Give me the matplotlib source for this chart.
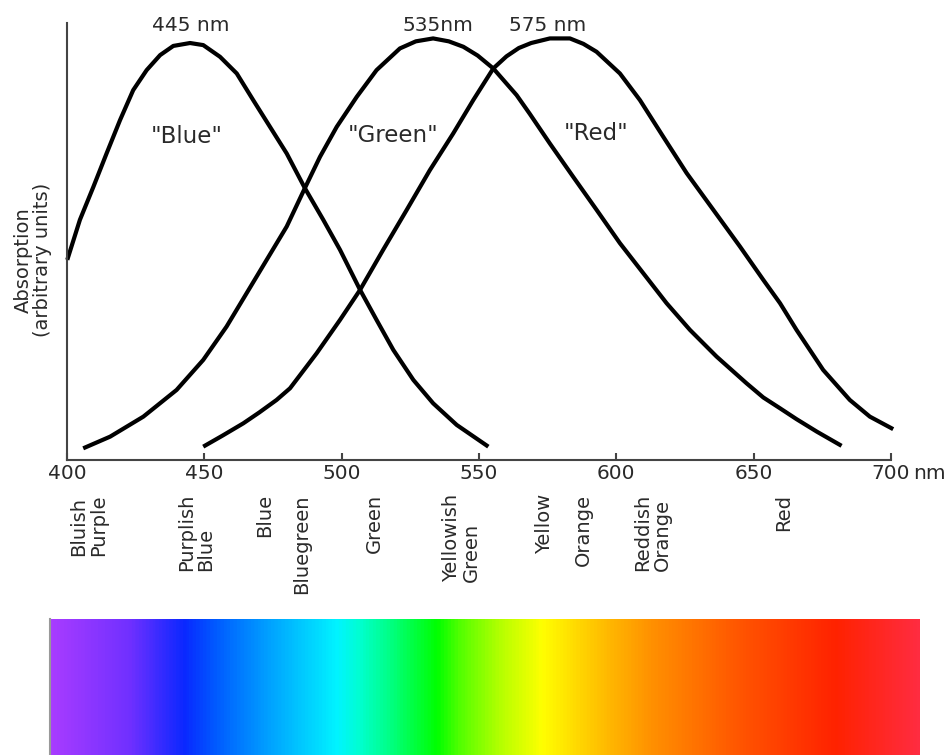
import numpy as np
import matplotlib
matplotlib.use("Agg")
import matplotlib.pyplot as plt
from matplotlib.colors import LinearSegmentedColormap
from matplotlib.transforms import blended_transform_factory

# cone absorption curves, traced (wavelength nm, relative absorption)
blue_nm = [400.1, 404.7, 409.6, 414.4, 419.3, 424.1, 429, 433.9, 438.7, 444.8,
           449.6, 455.7, 461.8, 467.8, 473.9, 480, 486.6, 493.3, 499.4, 506.7,
           512.7, 518.8, 526.1, 533.3, 541.9, 553.4]
blue_abs = [0.48, 0.576, 0.655, 0.735, 0.815, 0.887, 0.935, 0.971, 0.993, 1.0,
            0.995, 0.967, 0.927, 0.863, 0.799, 0.735, 0.652, 0.576, 0.504, 0.408,
            0.336, 0.264, 0.192, 0.136, 0.084, 0.032]

green_nm = [405.9, 415.7, 427.8, 439.9, 449.6, 458.1, 465.4, 472.7, 480, 486.6,
            492.1, 498.2, 505.5, 512.7, 521.2, 527, 533.3, 539, 544.3, 549.5,
            555.2, 563.7, 568.5, 575.8, 584.3, 592.8, 601.3, 609.8, 618.3, 626.8,
            636.5, 647.4, 653.5, 659.6, 665.6, 673, 682]
green_abs = [0.028, 0.056, 0.104, 0.168, 0.24, 0.32, 0.4, 0.48, 0.56, 0.652,
             0.727, 0.799, 0.871, 0.935, 0.987, 1.004, 1.011, 1.004, 0.991, 0.97,
             0.939, 0.875, 0.83, 0.759, 0.679, 0.6, 0.52, 0.448, 0.376, 0.312,
             0.248, 0.184, 0.15, 0.124, 0.098, 0.068, 0.034]

red_nm = [449.6, 456.5, 464.2, 470, 476.3, 481.2, 490.9, 499.4, 506.7, 515.1,
          523.7, 532.1, 540.6, 547.9, 555.2, 560, 564.5, 569, 575.8, 583.1, 588,
          592.8, 601.3, 608.6, 617.1, 625.6, 635.3, 645, 653.5, 659.6, 665.6,
          675.3, 685, 692.3, 700.8]
red_abs = [0.032, 0.058, 0.088, 0.114, 0.144, 0.172, 0.256, 0.336, 0.408, 0.504,
           0.6, 0.695, 0.783, 0.863, 0.939, 0.968, 0.988, 1.0, 1.011, 1.011, 0.998,
           0.979, 0.927, 0.863, 0.775, 0.688, 0.6, 0.512, 0.432, 0.376, 0.312,
           0.216, 0.144, 0.104, 0.074]

peak_nm = [445, 535, 575]
peak_text = ["445 nm", "535nm", "575 nm"]

curve_names = ['"Blue"', '"Green"', '"Red"']
curve_name_nm = [443.5, 518.7, 592.8]
curve_name_abs = [0.775, 0.779, 0.784]

xticks = [400, 450, 500, 550, 600, 650, 700]

hue_names = ["Bluish\nPurple", "Purplish\nBlue", "Blue", "Bluegreen", "Green",
             "Yellowish\nGreen", "Yellow", "Orange", "Reddish\nOrange", "Red"]
hue_nm = [408, 447, 472, 485.5, 512, 543.5, 574, 588, 613, 661]

# spectrum bar colour stops (fraction along bar, colour)
spec_pos = [0.0, 0.09, 0.153, 0.19, 0.257, 0.33, 0.355, 0.385, 0.445, 0.47,
            0.515, 0.566, 0.633, 0.693, 0.794, 0.905, 1.0]
spec_col = ["#a83cff", "#7030ff", "#0a28ff", "#005cff", "#00a8ff", "#00f4ff",
            "#00ffd0", "#00ff90", "#00ff00", "#50ff00", "#b0ff00", "#ffff00",
            "#ffc000", "#ff9000", "#ff5500", "#ff2200", "#ff2c40"]

plt.rcParams['font.family'] = ['DejaVu Sans']
txt = '#2a2a2a'

fig = plt.figure(figsize=(9.5, 7.55), dpi=100)
ax = fig.add_axes([67/950, 1-460/755, 824/950, 437/755])

for xs, ys in [(blue_nm, blue_abs), (green_nm, green_abs), (red_nm, red_abs)]:
    ax.plot(xs, ys, color='black', lw=3, solid_capstyle='butt',
            solid_joinstyle='round', clip_on=False)

ax.set_xlim(400, 700)
ax.set_ylim(0, 1.048)
for s in ['top', 'right']:
    ax.spines[s].set_visible(False)
for s in ['left', 'bottom']:
    ax.spines[s].set_linewidth(1.5)
    ax.spines[s].set_color('#444444')
ax.set_yticks([])
ax.set_xticks(xticks)
ax.set_xticklabels([str(t) for t in xticks])
ax.tick_params(axis='x', direction='in', length=5, width=1.5, color='#444444',
               pad=3, labelsize=14.5, labelcolor=txt)
ax.annotate("nm", xy=(700, 0), xytext=(16, -3), textcoords='offset points',
            ha='left', va='top', fontsize=14.5, color=txt, annotation_clip=False)

for x, t in zip(peak_nm, peak_text):
    ax.text(x, 1.029, t, ha='center', va='baseline', fontsize=14.5, color=txt)
for x, y, t in zip(curve_name_nm, curve_name_abs, curve_names):
    ax.text(x, y, t, ha='center', va='center', fontsize=16.5, color=txt)

trans = blended_transform_factory(ax.transData, fig.transFigure)
for x, t in zip(hue_nm, hue_names):
    ax.text(x, 1-494/755, t, transform=trans, rotation=90, ha='center', va='top',
            multialignment='left', fontsize=14, color=txt, linespacing=1.05)

fig.text(33/950, 1-260/755, "Absorption\n(arbitrary units)", rotation=90,
         ha='center', va='center', multialignment='center', fontsize=14,
         color=txt, linespacing=1.05)

# spectrum bar
cmap = LinearSegmentedColormap.from_list("spec", list(zip(spec_pos, spec_col)))
bax = fig.add_axes([50/950, 0, 869/950, 1-619/755])
bax.imshow(np.linspace(0, 1, 1000)[None, :], cmap=cmap, aspect='auto',
           extent=[0, 1, 0, 1])
bax.set_xticks([])
bax.set_yticks([])
for s in ['top', 'right', 'bottom']:
    bax.spines[s].set_visible(False)
bax.spines['left'].set_color('#999999')
bax.spines['left'].set_linewidth(1.5)

fig.savefig("out.png", dpi=100)
